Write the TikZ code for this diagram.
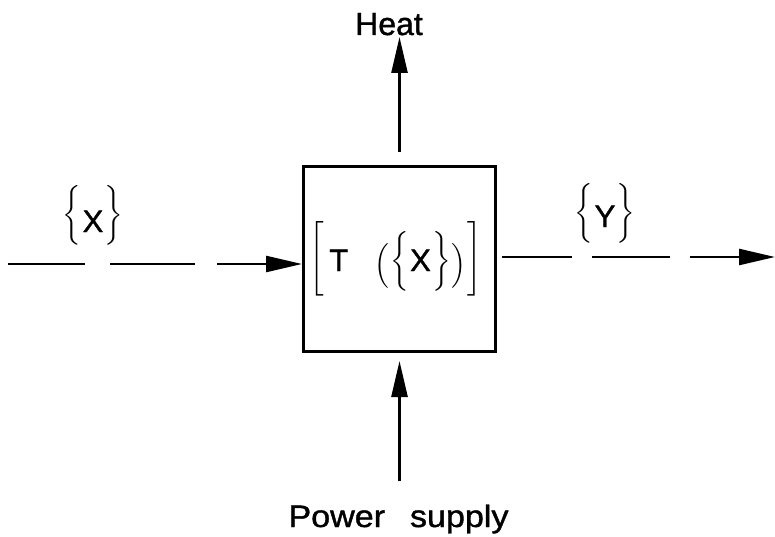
\documentclass[tikz,border=0pt]{standalone}
\usepackage{amsmath}
\usepackage{fontspec}
\setmainfont{Liberation Sans}
\newfontfamily\lbfont{Liberation Sans}[FakeBold=1.2]
\usetikzlibrary{arrows.meta}
\newcommand\ldl[3]{\raisebox{#3}{$\delimitershortfall=0pt\delimiterfactor=1000\left#1\vcenter{\hbox{\vrule height #2 width 0pt}}\right.$}}
\newcommand\rdl[3]{\raisebox{#3}{$\delimitershortfall=0pt\delimiterfactor=1000\left.\vcenter{\hbox{\vrule height #2 width 0pt}}\right#1$}}
\begin{document}
\begin{tikzpicture}[x=1pt,y=-1pt,
  lbl/.style={font=\lbfont\fontsize{31}{36}\selectfont, inner sep=0pt},
  arr/.style={line width=2.5pt, -{Triangle[length=36pt,width=16pt]}},
  boxst/.style={draw, line width=3pt, minimum width=192pt, minimum height=185pt, inner sep=0pt}]
\useasboundingbox (0,0) rectangle (775,537);
\node[boxst] (box) at (399.5,259) {};
\node[lbl, anchor=base] (tx) at (396,271)
  {\ldl{[}{70pt}{6pt}\kern4pt T\kern26pt\ldl{(}{35pt}{-1pt}\ldl{\{}{54pt}{3pt}X\rdl{\}}{54pt}{3pt}\rdl{)}{35pt}{-1pt}\rdl{]}{70pt}{6pt}};
\node[lbl, anchor=base] (xl) at (93,232) {\ldl{\{}{52pt}{10pt}X\rdl{\}}{52pt}{10pt}};
\node[lbl, anchor=base] (yl) at (605,227) {\ldl{\{}{51pt}{7pt}Y\rdl{\}}{51pt}{7pt}};
\node[lbl, font=\lbfont\fontsize{32}{38}\selectfont, anchor=base] (heat) at (389,35) {Heat};
\node[lbl, anchor=base] (pow) at (398.5,527) {\scalebox{1.1}[1]{Power\hspace{14pt} supply}};
\coordinate (xin) at (8,264);
\coordinate (yout) at (775,257);
\draw[arr, dash pattern=on 77pt off 25pt on 85pt off 22pt on 300pt] (xin) -- (box.west |- xin);
\draw[arr, shorten <=5pt, dash pattern=on 70pt off 20pt on 78pt off 20pt on 300pt] (box.east |- yout) -- (yout);
\draw[arr, shorten <=13pt, shorten >=2pt] (box.north) -- (box.north |- heat.base);
\draw[arr, shorten <=23pt, shorten >=8pt] (box.south |- pow.north) -- (box.south);
\end{tikzpicture}
\end{document}
